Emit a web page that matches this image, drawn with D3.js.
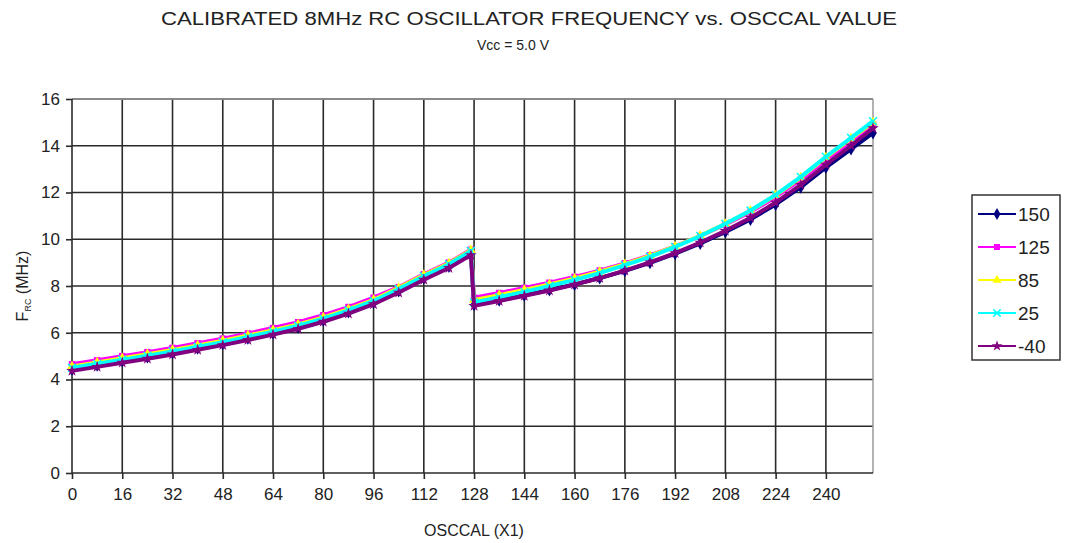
<!DOCTYPE html>
<html>
<head>
<meta charset="utf-8">
<script src="https://cdn.jsdelivr.net/npm/d3@7/dist/d3.min.js"></script>
<style>
  body { margin: 0; background: #fff; }
  text { font-family: "Liberation Sans", Arial, sans-serif; fill: #222; }
</style>
</head>
<body>
<svg id="chart" width="1070" height="543"></svg>
<script>
// OSCCAL positions (two halves, the jump is at 127 -> 128)
var osccalLow = [0, 8, 16, 24, 32, 40, 48, 56, 64, 72, 80, 88, 96, 104, 112, 120, 127];
var osccalHigh = [128, 136, 144, 152, 160, 168, 176, 184, 192, 200, 208, 216, 224, 232, 240, 248, 255];

// frequency in MHz, one array per temperature
var f150 = [4.44, 4.61, 4.79, 4.96, 5.14, 5.34, 5.54, 5.76, 5.99, 6.24, 6.54, 6.89, 7.29, 7.79, 8.34, 8.84, 9.39,
            7.20, 7.39, 7.60, 7.83, 8.07, 8.34, 8.65, 8.99, 9.38, 9.82, 10.31, 10.85, 11.49, 12.23, 13.07, 13.86, 14.55];
var f125 = [4.65, 4.82, 5.00, 5.17, 5.35, 5.55, 5.75, 5.97, 6.20, 6.45, 6.75, 7.10, 7.50, 7.95, 8.50, 9.00, 9.55,
            7.50, 7.70, 7.92, 8.14, 8.39, 8.66, 8.97, 9.31, 9.70, 10.14, 10.63, 11.17, 11.81, 12.55, 13.40, 14.20, 14.90];
var f85 = [4.56, 4.73, 4.91, 5.08, 5.26, 5.46, 5.66, 5.88, 6.11, 6.36, 6.66, 7.01, 7.41, 7.92, 8.47, 8.97, 9.53,
           7.40, 7.61, 7.83, 8.07, 8.32, 8.61, 8.93, 9.29, 9.69, 10.15, 10.66, 11.22, 11.88, 12.64, 13.50, 14.30, 15.00];
var f25 = [4.50, 4.67, 4.85, 5.02, 5.20, 5.40, 5.60, 5.82, 6.05, 6.30, 6.60, 6.96, 7.36, 7.87, 8.42, 8.93, 9.50,
           7.30, 7.52, 7.75, 8.00, 8.26, 8.55, 8.89, 9.25, 9.67, 10.14, 10.66, 11.23, 11.90, 12.67, 13.53, 14.34, 15.05];
var fm40 = [4.37, 4.54, 4.72, 4.89, 5.07, 5.27, 5.47, 5.69, 5.92, 6.17, 6.47, 6.82, 7.22, 7.72, 8.27, 8.77, 9.32,
            7.15, 7.36, 7.58, 7.81, 8.06, 8.34, 8.66, 9.01, 9.41, 9.86, 10.36, 10.92, 11.57, 12.33, 13.19, 14.00, 14.75];

var seriesNames = ["150", "125", "85", "25", "-40"];
var seriesValues = [f150, f125, f85, f25, fm40];
var seriesColors = ["#000080", "#ff00ff", "#ffff00", "#00ffff", "#800080"];
var seriesMarkers = ["diamond", "square", "triangle", "x", "star"];

var xTicks = d3.range(0, 241, 16);
var yTicks = d3.range(0, 17, 2);

var svg = d3.select("#chart");
var pLeft = 72, pRight = 873, pTop = 99, pBottom = 473;

var x = d3.scaleLinear().domain([0, 255]).range([pLeft, pRight]);
var y = d3.scaleLinear().domain([0, 16]).range([pBottom, pTop]);

// titles
svg.append("text").attr("x", 529).attr("y", 25).attr("text-anchor", "middle")
  .attr("textLength", 736).attr("lengthAdjust", "spacingAndGlyphs")
  .style("font-size", "18px").text("CALIBRATED 8MHz RC OSCILLATOR FREQUENCY vs. OSCCAL VALUE");
svg.append("text").attr("x", 513).attr("y", 50).attr("text-anchor", "middle")
  .style("font-size", "14px").text("Vcc = 5.0 V");

// grid
var grid = svg.append("g");
grid.selectAll(".hg").data(yTicks.slice(1)).enter().append("line")
  .attr("x1", pLeft).attr("x2", pRight)
  .attr("y1", function(d) { return y(d); }).attr("y2", function(d) { return y(d); })
  .attr("stroke", "#2a2a2a").attr("stroke-width", 1.6);
grid.selectAll(".vg").data(xTicks.slice(1)).enter().append("line")
  .attr("y1", pTop).attr("y2", pBottom)
  .attr("x1", function(d) { return x(d); }).attr("x2", function(d) { return x(d); })
  .attr("stroke", "#2a2a2a").attr("stroke-width", 1.6);
// plot border (top / right lighter)
svg.append("line").attr("x1", pLeft).attr("x2", pRight).attr("y1", pTop).attr("y2", pTop)
  .attr("stroke", "#999").attr("stroke-width", 1.5);
svg.append("line").attr("x1", pRight).attr("x2", pRight).attr("y1", pTop).attr("y2", pBottom)
  .attr("stroke", "#999").attr("stroke-width", 1.5);

// axes
var xAxis = d3.axisBottom(x).tickValues(xTicks).tickSize(6).tickPadding(9);
var yAxis = d3.axisLeft(y).tickValues(yTicks).tickSize(6).tickPadding(6);

var gx = svg.append("g").attr("transform", "translate(0," + pBottom + ")").call(xAxis);
var gy = svg.append("g").attr("transform", "translate(" + pLeft + ",0)").call(yAxis);
[gx, gy].forEach(function(g) {
  g.select(".domain").attr("stroke", "#2a2a2a").attr("stroke-width", 1.6);
  g.selectAll(".tick line").attr("stroke", "#2a2a2a").attr("stroke-width", 1.6);
  g.selectAll(".tick text").style("font-size", "17px").style("font-family", "Liberation Sans, Arial, sans-serif").attr("fill", "#222");
});
gx.select(".domain").attr("d", "M" + pLeft + ",0H" + pRight);
gy.select(".domain").attr("d", "M0," + pTop + "V" + pBottom);

// axis titles
svg.append("text").attr("x", 474).attr("y", 536).attr("text-anchor", "middle")
  .style("font-size", "16px").text("OSCCAL (X1)");
var yl = svg.append("text").attr("transform", "translate(28,286) rotate(-90)").attr("text-anchor", "middle")
  .style("font-size", "16px");
yl.append("tspan").text("F");
yl.append("tspan").attr("dy", 3).style("font-size", "9px").text("RC");
yl.append("tspan").attr("dy", -3).text(" (MHz)");

// marker drawing
function marker(g, kind, color, s) {
  if (kind === "diamond") {
    g.append("path").attr("d", d3.symbol().type(d3.symbolDiamond).size(s * 7)).attr("fill", color);
  } else if (kind === "square") {
    g.append("path").attr("d", d3.symbol().type(d3.symbolSquare).size(s * 6)).attr("fill", color);
  } else if (kind === "triangle") {
    g.append("path").attr("d", d3.symbol().type(d3.symbolTriangle).size(s * 6)).attr("fill", color);
  } else if (kind === "x") {
    g.append("path").attr("d", d3.symbol().type(d3.symbolTimes).size(s * 6))
      .attr("fill", "none").attr("stroke", color).attr("stroke-width", 1.5);
  } else {
    g.append("path").attr("d", d3.symbol().type(d3.symbolStar).size(s * 6)).attr("fill", color);
  }
}

var allX = osccalLow.concat(osccalHigh);
var line = d3.line().x(function(d) { return x(d[0]); }).y(function(d) { return y(d[1]); });

seriesValues.forEach(function(vals, i) {
  var pts = allX.map(function(o, k) { return [o, vals[k]]; });
  var g = svg.append("g");
  g.append("path").datum(pts).attr("d", line)
    .attr("fill", "none").attr("stroke", seriesColors[i]).attr("stroke-width", 4)
    .attr("stroke-linejoin", "round");
  g.selectAll("g.m").data(pts).enter().append("g")
    .attr("transform", function(d) { return "translate(" + x(d[0]) + "," + y(d[1]) + ")"; })
    .each(function() { marker(d3.select(this), seriesMarkers[i], seriesColors[i], 7); });
});

// legend
var lg = svg.append("g");
lg.append("rect").attr("x", 972).attr("y", 195).attr("width", 88).attr("height", 165)
  .attr("fill", "#fff").attr("stroke", "#333").attr("stroke-width", 1.5);
seriesNames.forEach(function(n, i) {
  var ly = 214 + i * 33;
  lg.append("line").attr("x1", 978).attr("x2", 1016).attr("y1", ly).attr("y2", ly)
    .attr("stroke", seriesColors[i]).attr("stroke-width", 2);
  var mg = lg.append("g").attr("transform", "translate(997," + ly + ")");
  marker(mg, seriesMarkers[i], seriesColors[i], 6);
  lg.append("text").attr("x", 1018).attr("y", ly + 7).style("font-size", "19px").text(n);
});
</script>
</body>
</html>
